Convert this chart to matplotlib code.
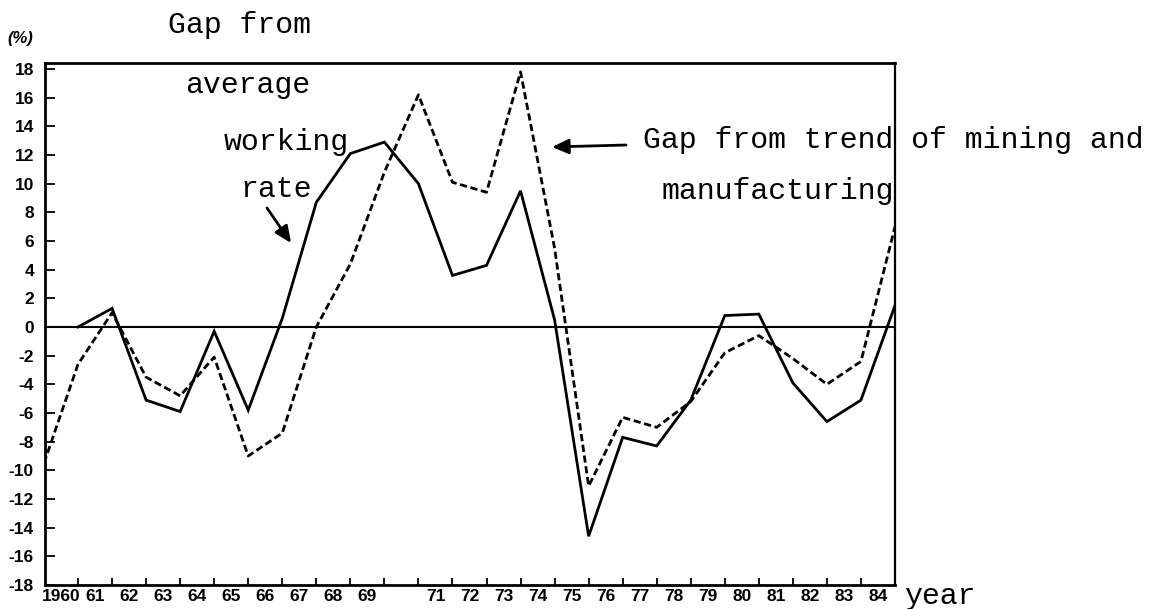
import numpy as np
import matplotlib.pyplot as plt

# data (percent gap)
years_wr = list(range(1960, 1985))
working_rate = [0, 1.3, -5.1, -5.9, -0.3, -5.8, 0.6, 8.7, 12.1, 12.9,
                10.0, 3.6, 4.3, 9.5, 0.5, -14.6, -7.7, -8.3, -5.1, 0.8,
                0.9, -3.9, -6.6, -5.1, 1.5]

years_mm = list(range(1959, 1985))
mining_manuf = [-9.5, -2.6, 1.0, -3.5, -4.8, -2.1, -9.0, -7.4, 0.0, 4.4,
                10.8, 16.2, 10.1, 9.4, 17.8, 5.5, -11.1, -6.3, -7.0, -5.2,
                -1.8, -0.6, -2.2, -4.0, -2.4, 7.0]

tick_years = list(range(1960, 1985))
year_labels = ["1960", "61", "62", "63", "64", "65", "66", "67", "68", "69", "",
               "71", "72", "73", "74", "75", "76", "77", "78", "79", "80",
               "81", "82", "83", "84"]
y_ticks = list(range(-18, 19, 2))

W, H = 1157, 609
tick_font = ["Liberation Sans Narrow", "Liberation Sans", "DejaVu Sans"]
mono = ["Liberation Mono", "DejaVu Sans Mono"]

fig = plt.figure(figsize=(W / 100, H / 100), dpi=100)
ax = fig.add_axes([45 / W, 1 - 585 / H, (895 - 45) / W, (585 - 63) / H])

ax.plot(years_wr, working_rate, color="black", lw=2.0, solid_joinstyle="miter")
ax.plot(years_mm, mining_manuf, color="black", lw=2.0, linestyle=(0, (2.6, 1.3)))
ax.axhline(0, color="black", lw=1.5)

ax.set_xlim(1959.03, 1984)
ax.set_ylim(-18, 18.42)

# ticks at each year, labels sit between ticks
ax.set_xticks(tick_years)
ax.set_xticklabels([])
ax.set_xticks([y - 0.5 for y in tick_years], minor=True)
ax.set_xticklabels(year_labels, minor=True, fontfamily=tick_font,
                   fontweight="bold", fontsize=12.5)
ax.tick_params(axis="x", which="major", direction="in", length=5, width=1.3)
ax.tick_params(axis="x", which="minor", length=0, pad=3)

ax.set_yticks(y_ticks)
ax.set_yticklabels([str(v) for v in y_ticks], fontfamily=tick_font,
                   fontweight="bold", fontsize=12.5)
ax.tick_params(axis="y", direction="in", length=7, width=1.3, pad=8)

for side in ["left", "bottom", "top"]:
    ax.spines[side].set_linewidth(2.0)
ax.spines["right"].set_linewidth(1.6)

# annotations
def fx(px):
    return px / W


def fy(py):
    return 1 - py / H


fig.text(fx(7), fy(39), "(%)", fontfamily=tick_font, fontweight="bold",
         fontstyle="italic", fontsize=12, va="center")
fig.text(fx(240), fy(33), "Gap from", fontfamily=mono, fontsize=21.5,
         ha="center", va="baseline")
fig.text(fx(248), fy(93), "average", fontfamily=mono, fontsize=21.5,
         ha="center", va="baseline")
fig.text(fx(286), fy(150), "working", fontfamily=mono, fontsize=21.5,
         ha="center", va="baseline")
fig.text(fx(276), fy(197), "rate", fontfamily=mono, fontsize=21.5,
         ha="center", va="baseline")
fig.text(fx(643), fy(148), "Gap from trend of mining and", fontfamily=mono,
         fontsize=21.5, ha="left", va="baseline")
fig.text(fx(662), fy(199), "manufacturing", fontfamily=mono, fontsize=21.5,
         ha="left", va="baseline")
fig.text(fx(905), fy(604), "year", fontfamily=mono, fontsize=21.5,
         ha="left", va="baseline")

arrow = dict(arrowstyle="-|>,head_length=1.0,head_width=0.45", color="black",
             lw=2.0, shrinkA=0, shrinkB=0)
ax.annotate("", xy=(fx(291), fy(243)), xytext=(fx(267), fy(208)),
            xycoords="figure fraction", textcoords="figure fraction",
            arrowprops=arrow)
ax.annotate("", xy=(fx(552), fy(147)), xytext=(fx(626), fy(145)),
            xycoords="figure fraction", textcoords="figure fraction",
            arrowprops=arrow)

fig.savefig("out.png", dpi=100)
